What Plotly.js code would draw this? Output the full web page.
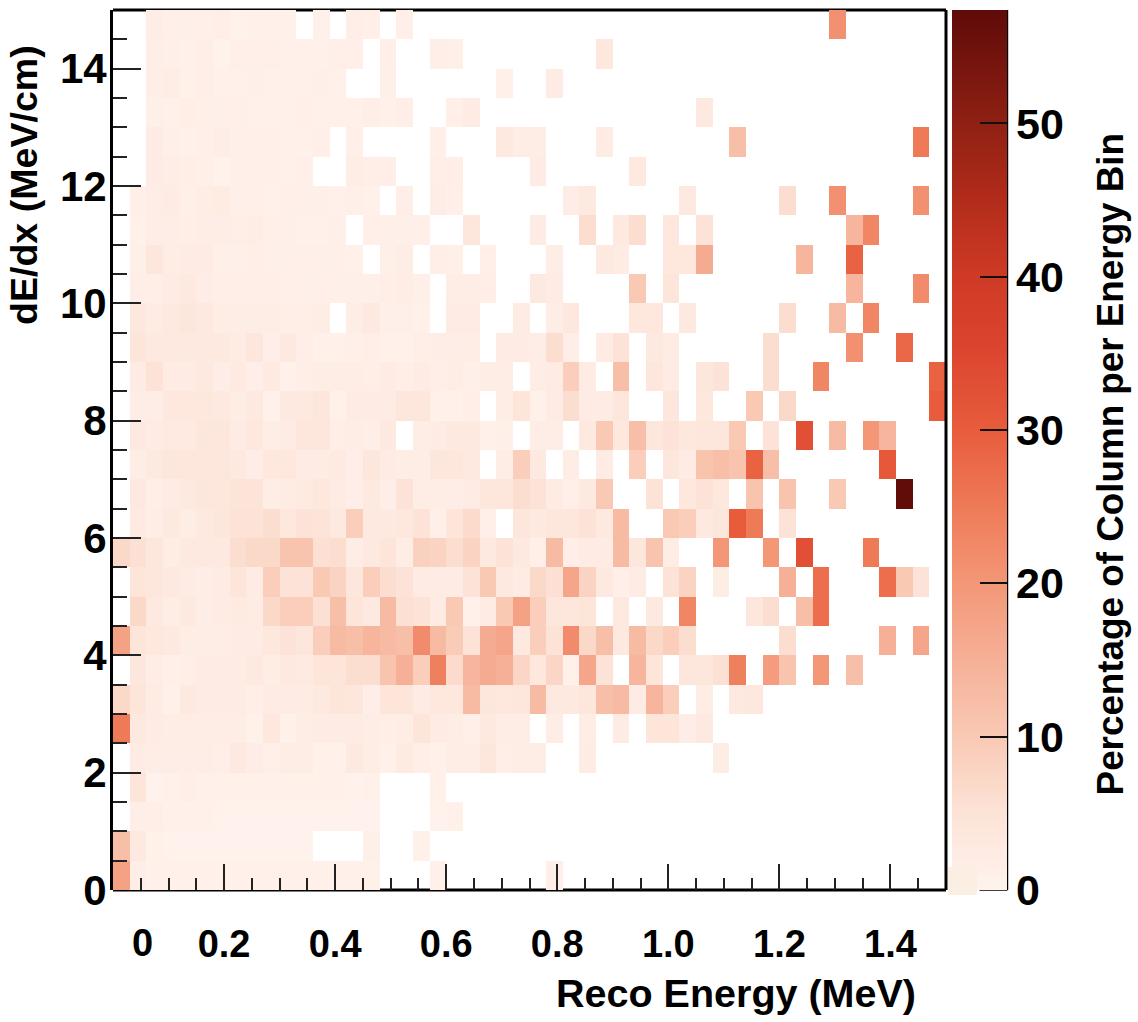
<!DOCTYPE html>
<html><head><meta charset="utf-8">
<script src="https://cdn.plot.ly/plotly-3.0.1.min.js"></script>
<style>html,body{margin:0;padding:0;background:#fff}</style></head>
<body><div id="chart" style="width:1138px;height:1022px"></div>
<script>
const _ = null;
const row00=[18,1.5,.8,.8,.8,.8,.8,.8,.8,.8, .8,.8,.8,.8,.8,.8,_,_,_,.9, _,_,_,_,_,_,1.2];
const row01=[12,3,.8,.6,.6,.7,.5,.7,.7,.7, .7,.7,_,_,_,1.3,_,_,1];
const row02=[_,1.5,1.5,.8,.8,1,.5,.7,.7,.7, .7,.7,.7,.7,.7,.7,_,_,_,.7, .8];
const row03=[_,4.5,.6,1,1.5,.8,1,.8,.8,.9, .9,.9,.9,.9,.7,.8,_,_,_,.9];
const row04=[_,2.5,2,1.8,1.8,1.8,1.5,3,1.8,1.2, 2,2,.8,1,3,2,1,2.8,1.5,1, 2,2,4,1.5,2,2,_,_,2.5,_, _,_,_,_,_,_,2];
const row05=[25,3,2.2,2,2,2,2,2,1,3.5, 1,2,2.5,2.2,2.2,2,1.5,2,4.5,2.5, 2,1.2,3,2,2,_,2,_,2,_, 2.5,_,4.5,4.5,1.8,3];
const row06=[7,4.5,2.5,1,3,2.2,2.5,2.5,1.5,2.2, 2.2,2.2,3,4.5,4,1.5,4.5,4.5,2.5,3.5, 3.5,13,4,3.5,4,13,3,3,4,12, 13,2.5,14,9,_,2,_,3,3.5];
const row07=[_,4,2,1.2,1.5,2.5,2.5,2.2,3,2, 3,2.8,4.5,4.5,6,6,11,15,9,24, 6.5,14,16,15,7.5,3.5,7.5,1,17,5, _,14,4.5,_,4,4,5.5,24,_,19, 11,_,20,_,12];
const row08=[18,4.5,3.5,3,2,2,2,2.5,2.5,3.5, 5,3.8,9,13,12,14,13,12,22,13, 9.5,5,16,17,3,9,5,22,7,12, 3,13,7,9,6,_,_,_,_,_, 6,_,_,_,_,_,15,_,17];
const row09=[_,7,3,2,3,1.8,2.5,2.8,2.5,7, 9,9,5.5,12,4.5,3,13,5.5,5,2.5, 10,1,2.5,10,18,9,4,4,4.5,_, 3,_,3,_,23,_,_,_,4,6, _,12,27];
const row10=[_,4.5,4,3,2.5,1.8,2.5,4.5,2.5,9, 5,5,10,8,4,9,6,5,2.5,2.5, 2.5,5,10,3,2.5,7,5.5,17,8,3, 1.2,2.5,_,5,8,_,2,_,_,_, 15,_,27,_,_,_,27,10,5];
const row11=[7,5.5,4,2,3,3,3,6,7,7, 11,11,5.5,6,2,3,4.5,2,8.5,8, 6,8,3,5,3,1.2,13,1.5,2.5,2.5, 13,4,11,2,_,_,20,_,_,20, _,33,_,_,_,25];
const row12=[_,2.8,1.8,3.2,2,3,4.2,5,5,6, 3.5,5,4.8,3,9,3,3,3.5,5,1.2, 4.5,6.5,1.2,_,4,3,4,4,5,3, 13,_,_,10,9,3,4,30,25,_, 5];
const row13=[_,3,1.5,2.5,3,4.2,4.2,4.8,4.8,2, 2.5,2.8,3.5,2.5,1.5,3,1.5,5,2,2, 1.8,2.5,4,4,6,5,2.5,1.2,3,10, _,_,5,_,3.5,5,3.5,_,11,_, 11,_,_,10,_,_,_,57];
const row14=[_,2,3,4,4,4,4.2,3,1.8,3.5, 3.5,2.2,2.2,2.8,1.5,4,2.2,2,2,4, 4,3,_,2,9,3,_,2,_,2.2, _,9,_,4,2.5,11,12,11,29,12, _,_,_,_,_,_,31];
const row15=[_,3,2.2,2.8,2.8,4,4.2,2.5,3.5,2, 2.2,4.2,4.2,1.5,2,1.5,3,_,2,2.5, 3,3,1,1.3,_,1.8,1.8,_,3,10, 3.5,12,4,5,3.5,4,4,10,_,5, _,33,_,13,_,20,14];
const row16=[_,1.8,1.8,3.5,3.5,3.5,3,2,3,.8, 3,3,4,1,2.5,2.5,2.5,4,4,1, .8,1.5,_,2,4.5,1,2.5,6,2.5,2.5, 4,_,_,4,_,3.5,_,_,10,_, 7,_,_,_,_,_,_,_,_,30];
const row17=[_,2.5,5,2.2,2.2,3,1.8,2.8,1.5,2.8, 1,1.5,2,2,2,1.5,2.2,1.5,2.5,1.5, 2,1.3,2,2,_,2,2.2,9,2.5,_, 12,_,4,2.5,_,4,5,_,_,6, _,_,23,_,_,_,_,_,_,29];
const row18=[_,4.5,3,3,3,3,3,2.2,4,1.5, 3,1.5,.8,.8,1.2,1.5,1,1,1.5,1.8, 1.8,2,_,2.5,2.2,1.8,6,1.6,_,2.5, 5,_,3,2.5,_,_,_,_,_,6, _,_,_,_,21,_,_,28];
const row19=[_,3.5,2.5,3,4,3,2,2,2,2, 1.5,1.5,2,_,2,3,1.3,1.3,1,_, 2.5,2.5,_,_,2.5,_,1.8,3.5,_,_, _,3.5,3.5,_,3,_,_,_,_,_, 6,_,_,13,_,23];
const row20=[_,1.6,1.6,2.5,3,1.8,1.5,1.6,1.6,1.6, 1.2,1.1,1.2,1.4,1.4,1.4,1.5,2,1.3,_, 2,2,1.5,_,_,3,2.5,_,_,_, _,10,_,4.5,_,_,_,_,_,_, _,_,_,_,14,_,_,_,22];
const row21=[_,1.1,4,2,2.2,2.2,1.3,1.4,1.6,1.4, 1.3,1.2,1.3,1.2,1,_,1.4,2,_,1.5, 1.3,_,1.2,_,_,_,2,_,_,3, 2.5,_,_,3.5,3.5,16,_,_,_,_, _,14,_,_,29];
const row22=[_,1,1.8,1.8,1.7,2,1.8,1.5,1.9,1.2, 1.4,.9,.9,1.1,_,1.2,1.3,1.3,1.2,_, _,4,_,_,_,2.5,_,_,6,_, 3,6,_,3.5,_,5,_,_,_,_, _,_,_,_,14,23];
const row23=[_,1.2,1.8,2.5,1.4,2,2.3,1.3,1.2,.8, 1.2,1.3,1.3,.9,1.3,1,_,1.5,_,1.8, 1.2,_,_,_,_,_,_,1.8,3,_, _,_,_,_,3,_,_,_,_,_, 6,_,_,21,_,_,_,_,21];
const row24=[_,_,2.5,1.8,1.7,1.2,.5,1.1,1.2,1.2, .9,1.2,_,_,2,1.5,1.5,_,_,1.5, 1.5,_,_,_,_,2.5,_,_,_,_, _,3];
const row25=[_,_,2.5,1.4,.9,1.2,1.8,1.1,1.2,1.2, .9,.9,1.2,_,1.2,_,_,_,_,1.2, _,_,_,3,2,2,_,_,_,2.5, _,_,_,_,_,_,_,12,_,_, _,_,_,_,_,_,_,_,25];
const row26=[_,_,1.4,.8,1.7,1.2,1.3,1.2,.9,.9, 1,1.2,1,1,1,1.5,1,1.5,_,_, 1.2,2.5,_,_,_,_,_,_,_,_, _,_,_,_,_,3];
const row27=[_,_,1.7,1.9,1,1.5,.8,.9,1.1,.8, .8,.9,1.3,1,_,_,1.3,_,_,_, _,_,_,1,_,_,2.5];
const row28=[_,_,1.5,1.3,.8,1.6,.7,1.2,1.2,1.2, 1,1,1,1.2,1.2,_,1.2,_,_,1.5, 1.3,_,_,_,_,_,_,_,_,3.5];
const row29=[_,_,1.8,1.2,1.3,1.2,1.5,.6,.9,1, .9,_,1,_,1.5,1.2,_,1.2,_,_, _,_,_,_,_,_,_,_,_,_, _,_,_,_,_,_,_,_,_,_, _,_,_,21];
const rows=[row00,row01,row02,row03,row04,row05,row06,row07,row08,row09,row10,row11,row12,row13,row14,row15,row16,row17,row18,row19,row20,row21,row22,row23,row24,row25,row26,row27,row28,row29];

const xTickVals=[0.2,0.4,0.6,0.8,1.0,1.2,1.4];
const xTickText=['0.2','0.4','0.6','0.8','1.0','1.2','1.4'];
const yTickVals=[0,2,4,6,8,10,12,14];
const zTickVals=[0,10,20,30,40,50];
const colorStops=[[0,'#fff3ee'],[5,'#fde3d7'],[10,'#f9c9b4'],[15,'#f6b097'],[20,'#f39777'],[25,'#ee7a58'],[30,'#e85c3c'],[35,'#dc4630'],[40,'#cf3a26'],[45,'#b22c1a'],[50,'#8f2013'],[57.4,'#5f0b09']];
const zMax=57.4;

const FONT='"Liberation Sans",Arial,sans-serif';
const W=1138,H=1022,L=113,R=946.5,T=10,B=890;
const px=v=>(v-L)/(R-L), py=v=>(B-v)/(B-T);

const trace={type:'heatmap',z:rows,x0:0.015,dx:0.03,y0:0.25,dy:0.5,
  zmin:0,zmax:zMax,zsmooth:false,hoverongaps:false,
  colorscale:colorStops.map(s=>[s[0]/zMax,s[1]]),
  colorbar:{x:px(953),xanchor:'left',xpad:0,y:0.5,yanchor:'middle',ypad:0,len:1,lenmode:'fraction',
    thickness:55,thicknessmode:'pixels',outlinewidth:0,
    tickmode:'array',tickvals:zTickVals,ticks:'inside',ticklen:27,tickwidth:2,tickcolor:'#111',
    tickfont:{family:FONT,size:43,color:'#000',weight:700}}};

const line=(x0,y0,x1,y1,w,layer)=>({type:'line',xref:'paper',yref:'paper',x0:px(x0),y0:py(y0),x1:px(x1),y1:py(y1),line:{color:'#000',width:w},layer:layer});

const layout={width:W,height:H,margin:{l:L,r:W-R,t:T,b:H-B,pad:0},
  paper_bgcolor:'#fff',plot_bgcolor:'#fff',showlegend:false,
  font:{family:FONT,color:'#000'},
  xaxis:{range:[0,1.5],showgrid:false,zeroline:false,showline:false,
    tickmode:'array',tickvals:xTickVals,ticktext:xTickText,ticks:'inside',ticklen:26,tickwidth:2,tickcolor:'#222',
    ticklabelstandoff:28,tickfont:{family:FONT,size:38,color:'#000',weight:700},
    minor:{dtick:0.05,tick0:0,ticks:'inside',ticklen:12,tickwidth:2,tickcolor:'#222',showgrid:false}},
  yaxis:{range:[0,15],showgrid:false,zeroline:false,showline:true,linewidth:3,linecolor:'#000',
    tickmode:'array',tickvals:yTickVals,ticktext:yTickVals.map(String),ticks:'inside',ticklen:28,tickwidth:2,tickcolor:'#222',
    ticklabelstandoff:-5,tickfont:{family:FONT,size:42,color:'#000',weight:700},
    minor:{dtick:0.5,tick0:0,ticks:'inside',ticklen:14,tickwidth:2,tickcolor:'#222',showgrid:false}},
  shapes:[line(L,T,R,T,3,'below'),line(L,B,R,B,3,'below'),line(R,T,R,B,3,'above'),
    line(1008,T,1008,B,1.5,'above'),line(980,B,1008,B,1.5,'above')],
  annotations:[
    {xref:'paper',yref:'paper',x:px(143),y:py(943),text:'0',showarrow:false,xanchor:'center',yanchor:'middle',font:{family:FONT,size:38,color:'#000',weight:700}},
    {xref:'paper',yref:'paper',x:px(736),y:py(993),text:'Reco Energy (MeV)',showarrow:false,xanchor:'center',yanchor:'middle',font:{family:FONT,size:39.5,color:'#000',weight:700}},
    {xref:'paper',yref:'paper',x:px(24),y:py(185),text:'dE/dx (MeV/cm)',textangle:-90,showarrow:false,xanchor:'center',yanchor:'middle',font:{family:FONT,size:37.6,color:'#000',weight:700}},
    {xref:'paper',yref:'paper',x:px(1112),y:py(464),text:'Percentage of Column per Energy Bin',textangle:-90,showarrow:false,xanchor:'center',yanchor:'middle',font:{family:FONT,size:36.8,color:'#000',weight:700}},
    {xref:'paper',yref:'paper',x:px(963.5),y:py(881),text:' ',showarrow:false,xanchor:'center',yanchor:'middle',width:29,height:28,bgcolor:'#fbeee3',borderwidth:0,borderpad:0,font:{size:10}}
  ]};
Plotly.newPlot('chart',[trace],layout,{displayModeBar:false,staticPlot:true});
</script></body></html>
